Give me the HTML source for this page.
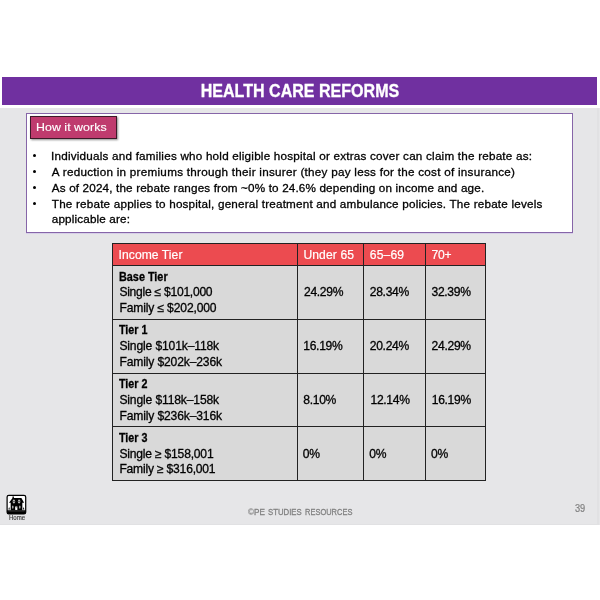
<!DOCTYPE html>
<html><head><meta charset="utf-8">
<style>
*{margin:0;padding:0;box-sizing:border-box}
html,body{width:600px;height:600px;background:#fff;overflow:hidden}
body{position:relative;font-family:"Liberation Sans",Arial,sans-serif;color:#000}
.bl,.c{-webkit-text-stroke:0.3px #000;filter:blur(0.2px)}
.hc{-webkit-text-stroke:0.2px #fff}
.a{position:absolute;white-space:nowrap}
#slide{left:0;top:108px;width:600px;height:417px;background:#e6e6e8;border-right:1px solid #e6e6e8;box-shadow:inset -2px -1px 0 #e1e1e3}
#bar{left:2px;top:77px;width:595px;height:28px;background:#7030a0}
#title{left:0;top:77px;width:600px;height:28px;text-align:center;transform:scaleX(0.912);transform-origin:299.7px 0;color:#fff;font-weight:bold;font-size:17.6px;line-height:28px;-webkit-text-stroke:0.3px #fff}
#box{left:26px;top:113px;width:547px;height:120px;background:#fff;border:1px solid #8665a8;box-shadow:0 1px 0 rgba(170,140,230,.25)}
#how{left:30px;top:116px;width:87px;height:23px;background:#bf3b6e;border:1px solid #3b1a28;box-shadow:1px 1px 2px rgba(0,0,0,.45);color:#fff;font-size:11.6px;line-height:20px;padding-left:5.4px;-webkit-text-stroke:0.15px #fff}
#how span{display:inline-block;transform:scaleX(1.065);transform-origin:0 0;letter-spacing:0.05px}
.bl{left:51px;font-size:11.7px;line-height:16px}
.dot{left:32.75px;width:3.5px;height:3.5px;border-radius:50%;background:#000}
#tbl{left:112px;top:243px;width:374px;height:238px;background:#d9d9d9}
#thead{left:112px;top:243px;width:374px;height:22px;background:#ec4b50}
.hl{height:1px;background:#222}
.vl{width:1px;background:#222}
.c{font-size:12.1px;line-height:16px}
.hc{color:#fff}
#foot{left:0;top:506px;width:600px;height:12px;font-size:9.6px;color:#808080;-webkit-text-stroke:0.3px #808080}
#foot span{position:absolute;top:0;transform-origin:0 0;white-space:nowrap}
#pn{left:574.6px;top:503.2px;line-height:12px;font-size:10px;color:#808080;-webkit-text-stroke:0.2px #808080;transform:scaleX(0.92);transform-origin:0 0}
#home{left:5px;top:493px;width:23px;height:23px}
#homet{left:8.9px;top:513.6px;font-size:6.9px;line-height:8px;color:#3a3a3a;letter-spacing:-0.05px;transform:scaleX(0.88);transform-origin:0 0;-webkit-text-stroke:0.15px #3a3a3a;filter:grayscale(1)}
</style></head><body>
<div class="a" id="slide"></div>
<div class="a" id="bar"></div>
<div class="a" id="title">HEALTH CARE REFORMS</div>
<div class="a" id="box"></div>
<div class="a" id="how"><span>How it works</span></div>

<div class="a dot" style="top:153.95px"></div>
<div class="a dot" style="top:169.85px"></div>
<div class="a dot" style="top:185.55px"></div>
<div class="a dot" style="top:201.55px"></div>

<div class="a" id="tbl"></div>
<div class="a" id="thead"></div>
<div class="a hl" style="left:112px;top:243px;width:374px"></div>
<div class="a hl" style="left:112px;top:265px;width:374px"></div>
<div class="a hl" style="left:112px;top:319px;width:374px"></div>
<div class="a hl" style="left:112px;top:373px;width:374px"></div>
<div class="a hl" style="left:112px;top:426px;width:374px"></div>
<div class="a hl" style="left:112px;top:480px;width:374px"></div>
<div class="a vl" style="left:112px;top:243px;height:238px"></div>
<div class="a vl" style="left:297px;top:243px;height:238px"></div>
<div class="a vl" style="left:363px;top:243px;height:238px"></div>
<div class="a vl" style="left:425px;top:243px;height:238px"></div>
<div class="a vl" style="left:485px;top:243px;height:238px"></div>
<div class="a bl" style="left:51.08px;top:148.05px;letter-spacing:0.209px">Individuals and families who hold eligible hospital or extras cover can claim the rebate as:</div>
<div class="a bl" style="left:51.80px;top:163.95px;letter-spacing:0.264px">A reduction in premiums through their insurer (they pay less for the cost of insurance)</div>
<div class="a bl" style="left:51.80px;top:179.55px;letter-spacing:0.155px">As of 2024, the rebate ranges from ~0% to 24.6% depending on income and age.</div>
<div class="a bl" style="left:51.80px;top:195.65px;letter-spacing:0.197px">The rebate applies to hospital, general treatment and ambulance policies. The rebate levels</div>
<div class="a bl" style="left:51.80px;top:211.15px;letter-spacing:0.150px">applicable are:</div>
<div class="a c hc" style="left:118.56px;top:246.81px;letter-spacing:0.070px">Income Tier</div>
<div class="a c hc" style="left:303.40px;top:246.81px;letter-spacing:0.129px">Under 65</div>
<div class="a c hc" style="left:369.80px;top:246.81px;letter-spacing:0.150px">65–69</div>
<div class="a c hc" style="left:431.50px;top:246.81px;letter-spacing:-0.250px">70+</div>
<div class="a c" style="left:119.20px;top:268.71px;transform:scaleX(0.8963);transform-origin:0 0"><b>Base Tier</b></div>
<div class="a c" style="left:119.40px;top:284.41px;letter-spacing:-0.263px">Single ≤ $101,000</div>
<div class="a c" style="left:119.40px;top:300.11px;letter-spacing:-0.138px">Family ≤ $202,000</div>
<div class="a c" style="left:304.00px;top:284.41px;letter-spacing:-0.313px">24.29%</div>
<div class="a c" style="left:369.80px;top:284.41px;letter-spacing:-0.313px">28.34%</div>
<div class="a c" style="left:431.50px;top:284.41px;letter-spacing:-0.313px">32.39%</div>
<div class="a c" style="left:119.20px;top:322.31px;transform:scaleX(0.8876);transform-origin:0 0"><b>Tier 1</b></div>
<div class="a c" style="left:119.40px;top:338.01px;letter-spacing:-0.138px">Single $101k–118k</div>
<div class="a c" style="left:119.40px;top:353.71px;letter-spacing:-0.138px">Family $202k–236k</div>
<div class="a c" style="left:303.30px;top:338.01px;letter-spacing:-0.313px">16.19%</div>
<div class="a c" style="left:369.80px;top:338.01px;letter-spacing:-0.313px">20.24%</div>
<div class="a c" style="left:431.60px;top:338.01px;letter-spacing:-0.313px">24.29%</div>
<div class="a c" style="left:119.20px;top:376.31px;transform:scaleX(0.8876);transform-origin:0 0"><b>Tier 2</b></div>
<div class="a c" style="left:119.40px;top:392.01px;letter-spacing:-0.138px">Single $118k–158k</div>
<div class="a c" style="left:119.40px;top:407.71px;letter-spacing:-0.138px">Family $236k–316k</div>
<div class="a c" style="left:303.30px;top:392.01px;letter-spacing:-0.313px">8.10%</div>
<div class="a c" style="left:370.50px;top:392.01px;letter-spacing:-0.313px">12.14%</div>
<div class="a c" style="left:431.72px;top:392.01px;letter-spacing:-0.313px">16.19%</div>
<div class="a c" style="left:119.20px;top:429.81px;transform:scaleX(0.8876);transform-origin:0 0"><b>Tier 3</b></div>
<div class="a c" style="left:119.40px;top:445.51px;letter-spacing:-0.200px">Single ≥ $158,001</div>
<div class="a c" style="left:119.40px;top:461.21px;letter-spacing:-0.200px">Family ≥ $316,001</div>
<div class="a c" style="left:302.70px;top:445.51px;letter-spacing:-0.200px">0%</div>
<div class="a c" style="left:369.20px;top:445.51px;letter-spacing:-0.200px">0%</div>
<div class="a c" style="left:431.00px;top:445.51px;letter-spacing:-0.200px">0%</div>


<svg class="a" id="home" viewBox="0 0 600 600">
<defs><clipPath id="cp"><rect x="55" y="60" width="485" height="485" rx="45"/></clipPath></defs>
<rect x="55" y="60" width="485" height="485" rx="45" fill="#fff"/>
<g clip-path="url(#cp)">
<rect x="40" y="450" width="520" height="110" fill="#000"/>
<path d="M105 252 L195 128 L195 92 L232 92 L232 128 L428 132 L498 252 Z" fill="#000"/>
<rect x="148" y="230" width="304" height="225" fill="#000"/>
<ellipse cx="232" cy="222" rx="33" ry="50" fill="#b8b8b8"/>
<ellipse cx="368" cy="222" rx="33" ry="50" fill="#b8b8b8"/>
<rect x="196" y="214" width="72" height="14" fill="#222"/>
<rect x="332" y="214" width="72" height="14" fill="#222"/>
<ellipse cx="203" cy="368" rx="22" ry="40" fill="#a8a8a8"/>
<ellipse cx="386" cy="368" rx="22" ry="40" fill="#a8a8a8"/>
<rect x="266" y="352" width="56" height="90" fill="#fff"/>
<circle cx="294" cy="372" r="10" fill="#333"/>
<path d="M88 430 L108 362 L128 430 Z" fill="#000"/>
<path d="M466 430 L486 362 L506 430 Z" fill="#000"/>
<rect x="90" y="485" width="420" height="8" fill="#555"/>
</g>
<rect x="55" y="60" width="485" height="485" rx="45" fill="none" stroke="#000" stroke-width="32"/>
</svg>
<div class="a" id="homet">Home</div>
<div class="a" id="foot"><span style="left:247.8px;transform:scaleX(0.85)"><i style="font-style:normal;-webkit-text-stroke:0.1px #808080">©</i>PE</span> <span style="left:267.8px;transform:scaleX(0.81)">STUDIES</span> <span style="left:304.8px;transform:scaleX(0.78)">RESOURCES</span></div>
<div class="a" id="pn">39</div>
</body></html>
